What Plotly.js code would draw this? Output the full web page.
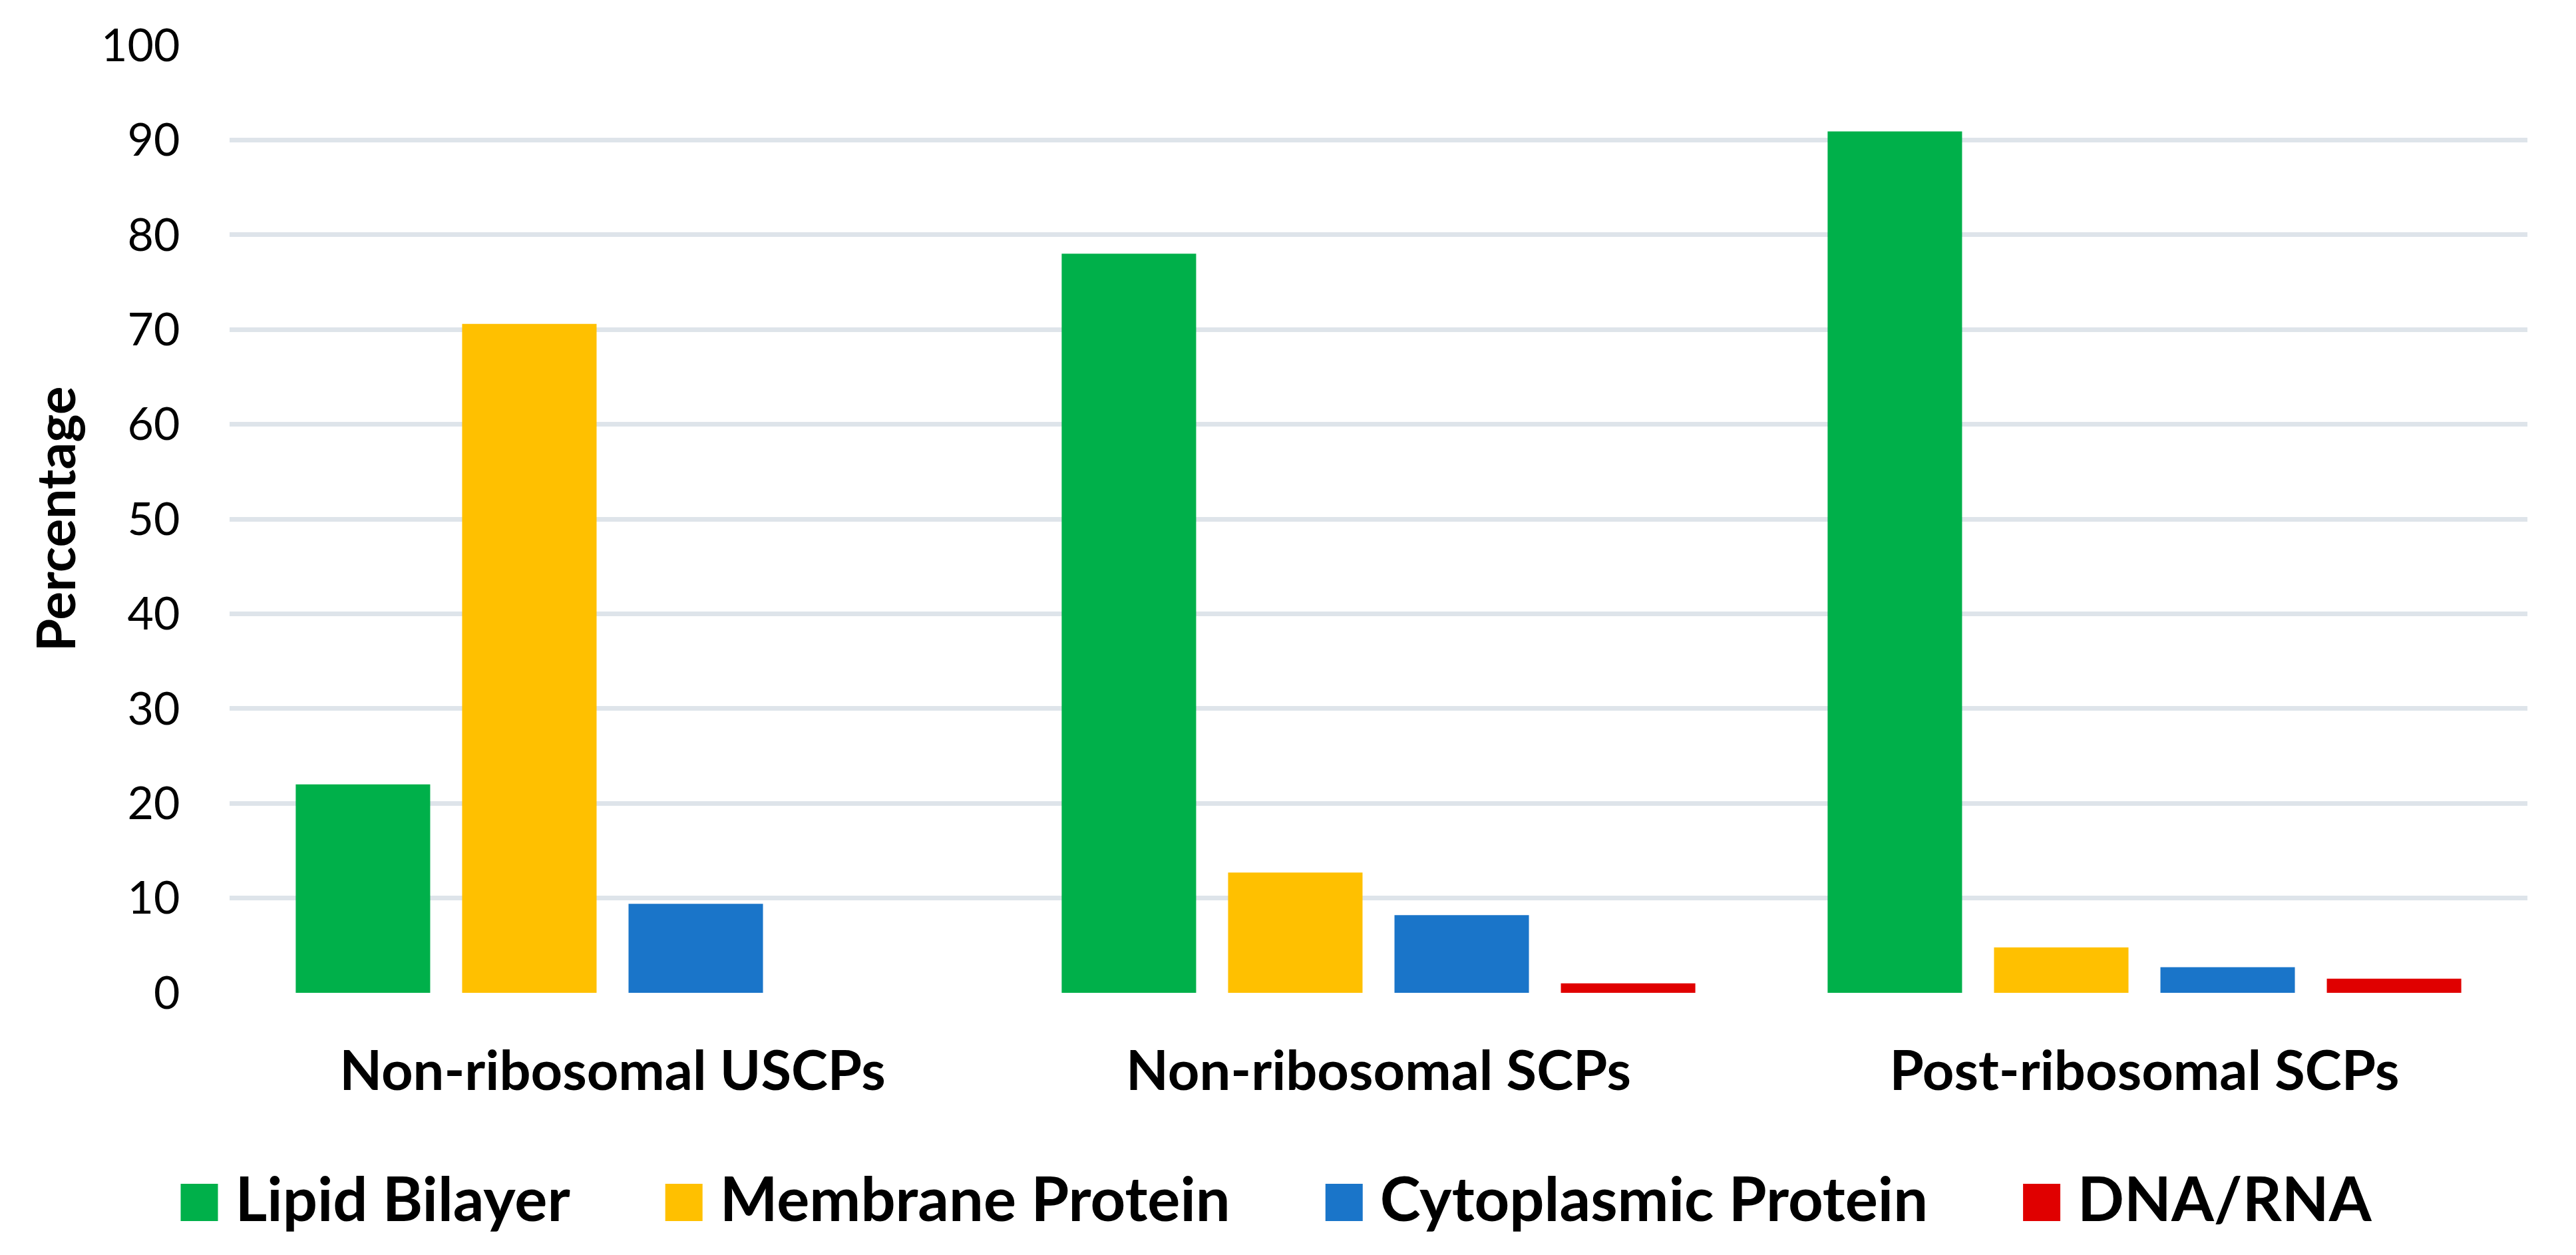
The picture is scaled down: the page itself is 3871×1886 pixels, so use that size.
<!DOCTYPE html>
<html>
<head>
<meta charset="utf-8">
<script src="https://cdn.plot.ly/plotly-3.0.1.min.js"></script>
<style>
  html, body { margin: 0; padding: 0; background: #ffffff; }
  #chart { width: 3871px; height: 1886px; }
</style>
</head>
<body>
<div id="chart"></div>
<script>
// ---- Data ----
var categories = ['Non-ribosomal USCPs', 'Non-ribosomal SCPs', 'Post-ribosomal SCPs'];
var seriesNames = ['Lipid Bilayer', 'Membrane Protein', 'Cytoplasmic Protein', 'DNA/RNA'];
var lipidBilayer = [22.0, 78.0, 90.9];
var membraneProtein = [70.6, 12.7, 4.8];
var cytoplasmicProtein = [9.4, 8.2, 2.7];
var dnaRna = [0, 1.0, 1.5];
var yTickValues = [0, 10, 20, 30, 40, 50, 60, 70, 80, 90, 100];

var colors = ['#00b04a', '#ffc000', '#1a75c9', '#e00000'];
var seriesValues = [lipidBilayer, membraneProtein, cytoplasmicProtein, dnaRna];

var FONT = 'Lato, "Open Sans", "DejaVu Sans", sans-serif';
var LEGEND_SIZE = 92;

var traces = seriesValues.map(function (vals, i) {
  return {
    type: 'bar',
    name: seriesNames[i],
    x: categories,
    y: vals,
    marker: { color: colors[i], line: { width: 0 } },
    hoverinfo: 'none'
  };
});

var layout = {
  width: 3871,
  height: 1886,
  paper_bgcolor: '#ffffff',
  plot_bgcolor: '#ffffff',
  margin: { l: 345, r: 73, t: 68, b: 394, pad: 0 },
  barmode: 'group',
  bargap: 0.131,
  bargroupgap: 0.192,
  showlegend: true,
  legend: {
    orientation: 'h',
    x: 1852 / 3871,
    xref: 'container',
    xanchor: 'center',
    y: 1 - 1799 / 1886,
    yref: 'container',
    yanchor: 'middle',
    font: { family: FONT, size: LEGEND_SIZE, color: '#000000', weight: 'bold' },
    itemwidth: 210,
    bgcolor: 'rgba(0,0,0,0)',
    traceorder: 'normal'
  },
  xaxis: {
    type: 'category',
    showgrid: false,
    zeroline: false,
    showline: false,
    ticks: 'outside',
    ticklen: 45,
    tickcolor: 'rgba(0,0,0,0)',
    tickfont: { family: FONT, size: 83, color: '#000000', weight: 'bold' },
    fixedrange: true
  },
  yaxis: {
    range: [0, 100],
    tickvals: yTickValues,
    ticktext: yTickValues.map(String),
    showgrid: true,
    gridcolor: '#dee4ea',
    gridwidth: 7,
    zeroline: false,
    showline: false,
    ticks: 'outside',
    ticklen: 60,
    tickcolor: 'rgba(0,0,0,0)',
    tickfont: { family: FONT, size: 68, color: '#000000' },
    title: {
      text: 'Percentage',
      font: { family: FONT, size: 80, color: '#000000', weight: 'bold' },
      standoff: 12
    },
    fixedrange: true
  }
};

var gd = document.getElementById('chart');

// enlarge the legend colour swatches (reference uses ~56px squares set just left of the text)
function fixSwatches() {
  var s = 56 / 12;
  var items = gd.querySelectorAll('.legend .traces');
  items.forEach(function (it) {
    var txt = it.querySelector('text.legendtext');
    var path = it.querySelector('.legendpoints path');
    if (!txt || !path) return;
    path.setAttribute('transform', 'scale(' + s + ')');
    var tb = txt.getBoundingClientRect();
    var pb = path.getBoundingClientRect();
    var pcx = pb.left + pb.width / 2;
    var pcy = pb.top + pb.height / 2;
    var baseline = tb.bottom - 0.213 * LEGEND_SIZE;
    var targetX = tb.left - 54;
    var targetY = baseline - 28;
    path.setAttribute('transform', 'translate(' + (targetX - pcx) + ',' + (targetY - pcy) + ') scale(' + s + ')');
  });
}

Plotly.newPlot(gd, traces, layout, { staticPlot: true, displayModeBar: false }).then(function () {
  fixSwatches();
  setTimeout(fixSwatches, 200);
});
</script>
</body>
</html>
